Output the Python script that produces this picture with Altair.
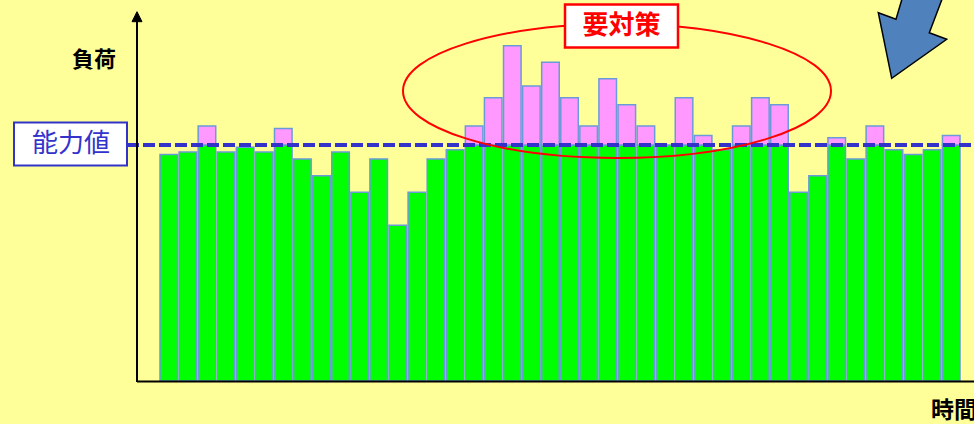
import altair as alt
import pandas as pd

# ---- data (load as % of capacity) ----
periods = list(range(1, 43))
loads = [96, 97, 108, 97, 99, 97, 107, 94, 87, 97,
         80, 94, 66, 80, 94, 98, 108, 120, 142, 125,
         135, 120, 108, 128, 117, 108, 100, 120, 104, 98,
         108, 120, 117, 80, 87, 103, 94, 108, 98, 96,
         98, 104]
capacity = 100

df = pd.DataFrame({"period": periods, "load": loads})
df["green"] = df["load"].clip(upper=capacity)
df["cap"] = capacity
over = df[df["load"] > capacity]

FONT = "Noto Sans CJK JP"
W, H = 837, 381

xs = alt.X("period:O", scale=alt.Scale(range=[23, 823], paddingInner=0.08, paddingOuter=0), axis=None)
ys = alt.Scale(domain=[0, 161.4], nice=False, zero=True)

green = alt.Chart(df).mark_bar(color="#00FF00", stroke="#6A9BD8", strokeWidth=1.5).encode(
    x=xs, y=alt.Y("green:Q", scale=ys, axis=None), y2=alt.value(H)
)
pink = alt.Chart(over).mark_bar(color="#FF99FF", stroke="#6A9BD8", strokeWidth=1.5).encode(
    x=xs, y=alt.Y("load:Q", scale=ys, axis=None), y2="cap:Q"
)

one = pd.DataFrame({"a": [0]})
cap_df = pd.DataFrame({"cap": [capacity]})

cap_line = alt.Chart(cap_df).mark_rule(color="#3333CC", strokeWidth=4, strokeDash=[12, 4]).encode(
    y=alt.Y("cap:Q", scale=ys, axis=None), x=alt.value(-10), x2=alt.value(W)
)

y_axis = alt.Chart(one).mark_rule(color="black", strokeWidth=2).encode(
    x=alt.value(0), y=alt.value(18), y2=alt.value(382)
)
x_axis = alt.Chart(one).mark_rule(color="black", strokeWidth=2).encode(
    x=alt.value(0), x2=alt.value(W), y=alt.value(381.5)
)
arrow_head = alt.Chart(one).mark_point(
    shape="M 0 -5 L 5 5 L -5 5 Z", size=4, filled=True, fill="black", stroke="black",
    strokeWidth=1, opacity=1
).encode(x=alt.value(0), y=alt.value(16.7))

ellipse = alt.Chart(one).mark_point(
    shape="M -214 0 A 214 67 0 1 0 214 0 A 214 67 0 1 0 -214 0 Z", size=4,
    filled=False, stroke="#FF0000", strokeWidth=2, opacity=1
).encode(x=alt.value(480), y=alt.value(91))

big_arrow = alt.Chart(one).mark_point(
    shape="M -7.4 -60 L -19 -20.7 L -36.7 -27.3 L -23.3 38.3 L 31.7 -0.7 L 14.3 -7.3 L 34.3 -60 Z",
    size=4, filled=True, fill="#4F81BD", stroke="black", strokeWidth=1.5, opacity=1
).encode(x=alt.value(778), y=alt.value(40))

cap_box = alt.Chart(one).mark_rect(fill="white", stroke="#3333CC", strokeWidth=2).encode(
    x=alt.value(-123), x2=alt.value(-10), y=alt.value(122.5), y2=alt.value(165.5)
)
cap_text = alt.Chart(one).mark_text(text="能力値", font=FONT, fontSize=26, color="#3333CC",
                                    align="center", baseline="middle").encode(
    x=alt.value(-66), y=alt.value(144)
)

todo_box = alt.Chart(one).mark_rect(fill="white", stroke="#FF0000", strokeWidth=2.5).encode(
    x=alt.value(428), x2=alt.value(541), y=alt.value(4.5), y2=alt.value(47.5)
)
todo_text = alt.Chart(one).mark_text(text="要対策", font=FONT, fontSize=26, fontWeight="bold",
                                     color="#FF0000", align="center", baseline="middle").encode(
    x=alt.value(484.5), y=alt.value(26)
)

load_label = alt.Chart(one).mark_text(text="負荷", font=FONT, fontSize=22, fontWeight="bold",
                                      color="black", align="center", baseline="middle").encode(
    x=alt.value(-43), y=alt.value(59.5)
)
time_label = alt.Chart(one).mark_text(text="時間", font=FONT, fontSize=23, fontWeight="bold",
                                      color="black", align="left", baseline="middle").encode(
    x=alt.value(794), y=alt.value(410.5)
)

chart = alt.layer(
    green, pink, cap_line, y_axis, x_axis, arrow_head, ellipse, big_arrow,
    cap_box, cap_text, todo_box, todo_text, load_label, time_label
).properties(
    width=W, height=H,
    padding={"left": 137, "top": 0, "right": 0, "bottom": 43},
    autosize="none",
    background="#FFFF99",
).configure_view(stroke=None)

chart.save("out.html", embed_options={"renderer": "svg", "actions": False})
